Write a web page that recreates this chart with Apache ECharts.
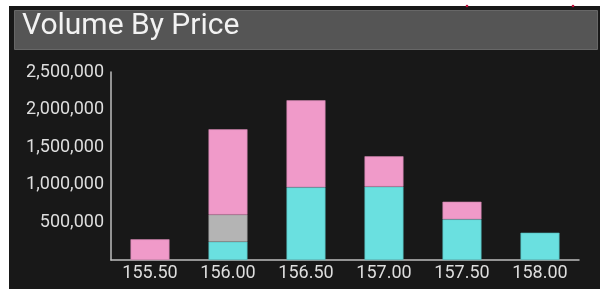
<!DOCTYPE html>
<html>
<head>
<meta charset="utf-8">
<script src="https://cdn.jsdelivr.net/npm/echarts@6/dist/echarts.min.js"></script>
<style>
html,body{margin:0;padding:0;background:#ffffff;}
#chart{width:600px;height:289px;}
</style>
</head>
<body>
<div id="chart"></div>
<script>
const titleText = 'Volume By Price';
const categories = ['155.50','156.00','156.50','157.00','157.50','158.00'];
const buyVolume = [0, 243000, 967000, 975000, 541000, 363000];
const neutralVolume = [0, 359000, 0, 0, 0, 0];
const sellVolume = [275000, 1136000, 1157000, 404000, 234000, 0];
const yTicks = [0, 500000, 1000000, 1500000, 2000000, 2500000];

const chart = echarts.init(document.getElementById('chart'), null, {renderer:'canvas'});
const fmt = v => v === 0 ? '' : v.toLocaleString('en-US');
const nz = arr => arr.map(v => v === 0 ? '-' : v);
const barBase = {type:'bar', stack:'vol', barWidth:39};
chart.setOption({
  backgroundColor:'#ffffff',
  animation:false,
  graphic:[
    {type:'rect', shape:{x:9,y:6,width:591,height:283}, style:{fill:'#181818'}, z:-10},
    {type:'rect', shape:{x:14.5,y:10.5,width:583,height:39}, style:{fill:'#555555', stroke:'#676767', lineWidth:1}, z:-5},
    {type:'text', left:22, top:11, style:{text:titleText, fill:'#f2f2f2', font:'30px Roboto'}, z:5},
    {type:'circle', shape:{cx:467,cy:6,r:1.3}, style:{fill:'#c0103a'}, z:6},
    {type:'circle', shape:{cx:573,cy:6,r:1.3}, style:{fill:'#c0103a'}, z:6}
  ],
  grid:{left:111, right:21, top:72, bottom:29, containLabel:false},
  xAxis:{
    type:'category', data:categories,
    axisLine:{show:true, lineStyle:{color:'#bdbdbd', width:1.5}},
    axisTick:{show:false},
    axisLabel:{color:'#dedede', fontSize:18, fontFamily:'Roboto', margin:4}
  },
  yAxis:{
    type:'value', min:yTicks[0], max:yTicks[yTicks.length-1], interval:yTicks[1]-yTicks[0],
    axisLine:{show:true, lineStyle:{color:'#bdbdbd', width:1.5}},
    axisTick:{show:false},
    splitLine:{show:false},
    axisLabel:{color:'#dedede', fontSize:18, fontFamily:'Roboto', margin:7, formatter:fmt}
  },
  series:[
    Object.assign({}, barBase, {name:'Buy', data:nz(buyVolume), itemStyle:{color:'#6ae0e0', borderColor:'#4fb5b5', borderWidth:0.6}}),
    Object.assign({}, barBase, {name:'Neutral', data:nz(neutralVolume), itemStyle:{color:'#b4b4b4', borderColor:'#999', borderWidth:0.6}}),
    Object.assign({}, barBase, {name:'Sell', data:nz(sellVolume), itemStyle:{color:'#f09ac9', borderColor:'#c97fa8', borderWidth:0.6}})
  ]
});
</script>
</body>
</html>
